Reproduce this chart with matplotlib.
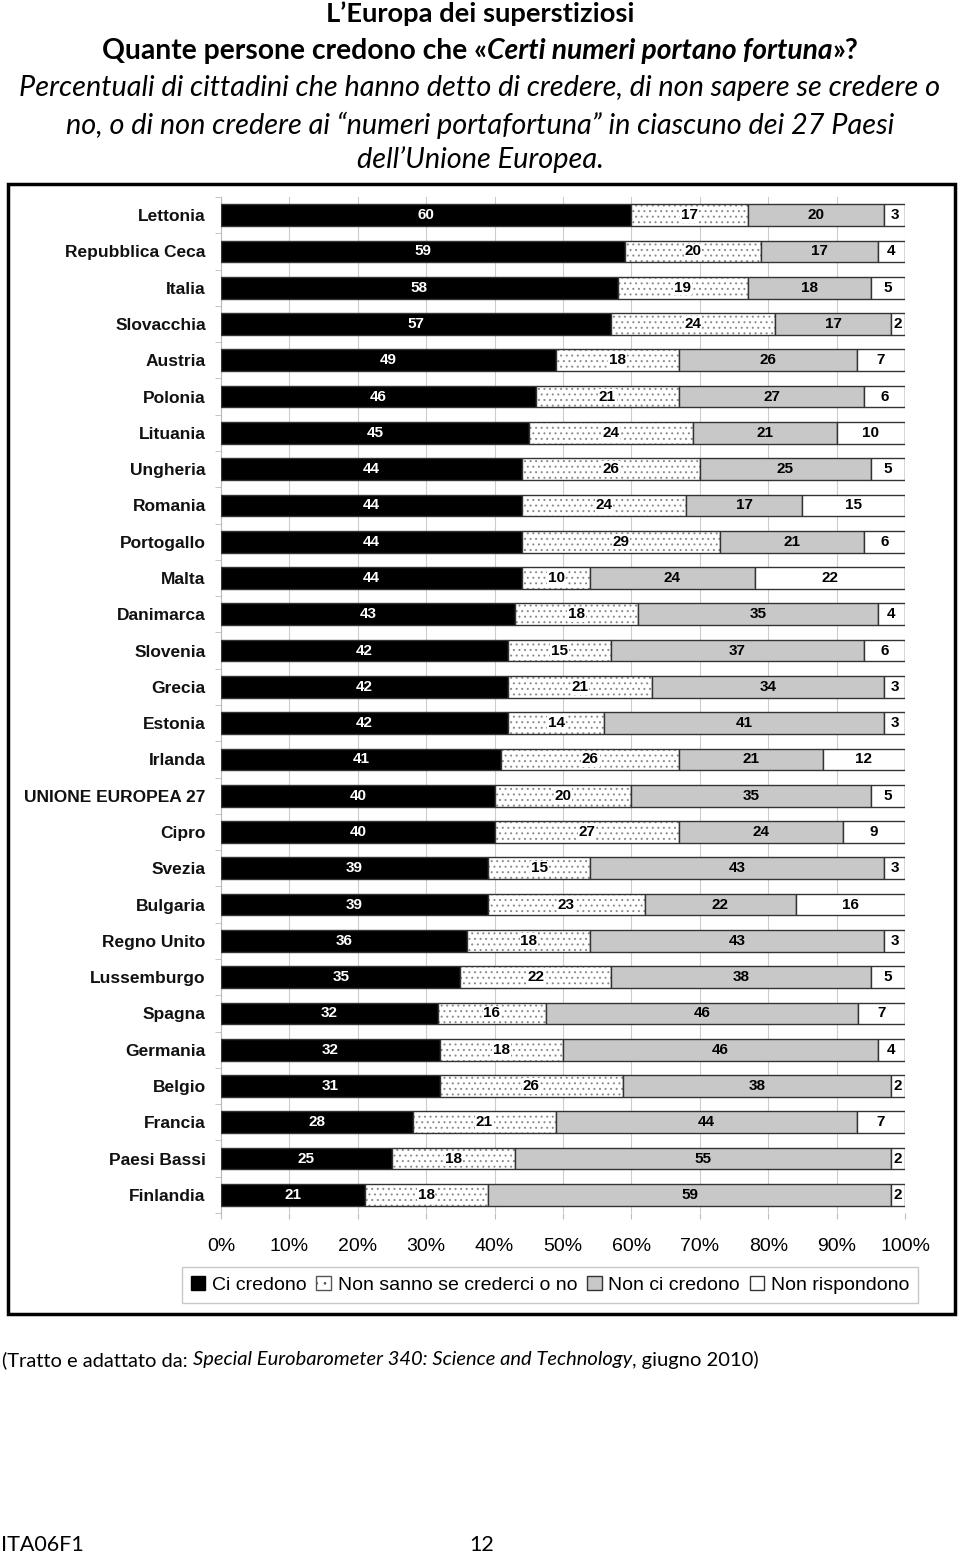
import matplotlib
matplotlib.use("Agg")
import matplotlib.pyplot as plt
from matplotlib.patches import Patch, Rectangle
import numpy as np

countries = ["Lettonia", "Repubblica Ceca", "Italia", "Slovacchia", "Austria", "Polonia",
             "Lituania", "Ungheria", "Romania", "Portogallo", "Malta", "Danimarca",
             "Slovenia", "Grecia", "Estonia", "Irlanda", "UNIONE EUROPEA 27", "Cipro",
             "Svezia", "Bulgaria", "Regno Unito", "Lussemburgo", "Spagna", "Germania",
             "Belgio", "Francia", "Paesi Bassi", "Finlandia"]
ci_credono = [60, 59, 58, 57, 49, 46, 45, 44, 44, 44, 44, 43, 42, 42, 42, 41, 40, 40,
              39, 39, 36, 35, 32, 32, 31, 28, 25, 21]
non_sanno = [17, 20, 19, 24, 18, 21, 24, 26, 24, 29, 10, 18, 15, 21, 14, 26, 20, 27,
             15, 23, 18, 22, 16, 18, 26, 21, 18, 18]
non_credono = [20, 17, 18, 17, 26, 27, 21, 25, 17, 21, 24, 35, 37, 34, 41, 21, 35, 24,
               43, 22, 43, 38, 46, 46, 38, 44, 55, 59]
non_rispondono = [3, 4, 5, 2, 7, 6, 10, 5, 15, 6, 22, 4, 6, 3, 3, 12, 5, 9,
                  3, 16, 3, 5, 7, 4, 2, 7, 2, 2]
series_names = ["Ci credono", "Non sanno se crederci o no", "Non ci credono", "Non rispondono"]
xtick_labels = ["0%", "10%", "20%", "30%", "40%", "50%", "60%", "70%", "80%", "90%", "100%"]

W, H = 960, 1556
fig = plt.figure(figsize=(W / 100, H / 100), dpi=100)
plt.rcParams['hatch.linewidth'] = 0.7

def fx(px):
    return px / W

def fy(py):
    return 1 - py / H

ax = fig.add_axes([fx(221), fy(1213), 684 / W, 1016 / H])
n = len(countries)
y = np.arange(n)
bh = 0.6
edge = "#333333"

vals = [np.array(ci_credono, float), np.array(non_sanno, float),
        np.array(non_credono, float), np.array(non_rispondono, float)]
totals = sum(vals)
left = np.zeros(n)
lab_font = dict(fontsize=11, fontweight="bold", family="Liberation Sans", zorder=5,
                ha="center", va="center")
for k, v in enumerate(vals):
    w = v / totals * 100
    if k == 0:
        ax.barh(y, w, left=left, height=bh, color="black", edgecolor=edge, linewidth=1, zorder=3)
    elif k == 1:
        ax.barh(y, w, left=left, height=bh, color="white", edgecolor="#8a8a8a", hatch="...",
                linewidth=0, zorder=3)
        ax.barh(y, w, left=left, height=bh, color="none", edgecolor=edge, linewidth=1, zorder=3)
    elif k == 2:
        ax.barh(y, w, left=left, height=bh, color="#c8c8c8", edgecolor=edge, linewidth=1, zorder=3)
    else:
        ax.barh(y, w, left=left, height=bh, color="white", edgecolor=edge, linewidth=1, zorder=3)
    for i in range(n):
        cx = left[i] + w[i] / 2
        if k == 0:
            ax.text(cx, y[i], "%d" % v[i], color="white", **lab_font)
        elif k == 1:
            ax.text(cx, y[i], "%d" % v[i], color="black",
                    bbox=dict(facecolor="white", edgecolor="none", pad=0.6), **lab_font)
        else:
            ax.text(cx, y[i], "%d" % v[i], color="black", **lab_font)
    left = left + w

ax.set_xlim(0, 100)
ax.set_ylim(n - 0.5, -0.5)
ax.set_xticks(np.arange(0, 101, 10))
ax.set_xticklabels(xtick_labels, family="Liberation Sans", fontsize=14)
ax.set_yticks(y)
ax.set_yticklabels(countries, family="Liberation Sans", fontsize=12.5, fontweight="bold",
                   color="#111111")
ax.set_yticks(np.arange(-0.5, n, 1), minor=True)
ax.tick_params(axis="y", which="major", length=0, pad=11)
ax.tick_params(axis="y", which="minor", length=4, color="#bbbbbb", direction="out")
ax.tick_params(axis="x", length=4, color="#bbbbbb", pad=14)
ax.grid(axis="x", color="#cccccc", linewidth=0.8, zorder=0)
for s in ["top", "bottom"]:
    ax.spines[s].set_visible(False)
ax.spines["left"].set_color("#bbbbbb")
ax.spines["right"].set_visible(False)

handles = [
    Patch(facecolor="black", edgecolor="black"),
    Patch(facecolor="white", edgecolor="#555555", hatch=".."),
    Patch(facecolor="#c8c8c8", edgecolor="#333333"),
    Patch(facecolor="white", edgecolor="#333333"),
]
leg = fig.legend(handles, series_names, loc="center", bbox_to_anchor=(fx(550), fy(1285)),
                 ncol=4, frameon=True, fancybox=False,
                 prop={"family": "Liberation Sans", "size": 14},
                 handlelength=0.75, handleheight=0.75, handletextpad=0.35,
                 columnspacing=0.5, borderpad=0.45, borderaxespad=0)
leg.get_frame().set_edgecolor("#bbbbbb")
leg.get_frame().set_linewidth(1)

fig.add_artist(Rectangle((fx(8), fy(1314)), 947 / W, 1130 / H, transform=fig.transFigure,
                         fill=False, edgecolor="black", linewidth=2.5))

renderer = fig.canvas.get_renderer()
tfont = "Lato"

def mixed(pieces, ypx, fs, xpx=None, center=True):
    arts = []
    widths = []
    for txt, style, weight in pieces:
        t = fig.text(0, fy(ypx), txt, fontsize=fs, family=tfont, style=style,
                     fontweight=weight, va="center", ha="left")
        arts.append(t)
        widths.append(t.get_window_extent(renderer).width)
    total = sum(widths)
    x0 = (W / 2 - total / 2) if center else xpx
    for t, w in zip(arts, widths):
        t.set_x(fx(x0))
        x0 += w

mixed([("L\u2019Europa dei superstiziosi", "normal", "bold")], 14, 19.7)
mixed([("Quante persone credono che \u00ab", "normal", "bold"),
       ("Certi numeri portano fortuna", "italic", "bold"),
       ("\u00bb?", "normal", "bold")], 51, 20.3)
mixed([("Percentuali di cittadini che hanno detto di credere, di non sapere se credere o",
        "italic", "normal")], 88, 20.8)
mixed([("no, o di non credere ai \u201cnumeri portafortuna\u201d in ciascuno dei 27 Paesi",
        "italic", "normal")], 125, 20.8)
mixed([("dell\u2019Unione Europea.", "italic", "normal")], 160, 20.8)

mixed([("(Tratto e adattato da: ", "normal", "normal"),
       ("Special Eurobarometer 340: Science and Technology", "italic", "normal"),
       (", giugno 2010)", "normal", "normal")], 1360, 14.5, xpx=2, center=False)
fig.text(fx(1), fy(1545), "ITA06F1", fontsize=15.5, family=tfont, va="center", ha="left")
fig.text(fx(482), fy(1545), "12", fontsize=15.5, family=tfont, va="center", ha="center")

fig.savefig("out.png", dpi=100)
